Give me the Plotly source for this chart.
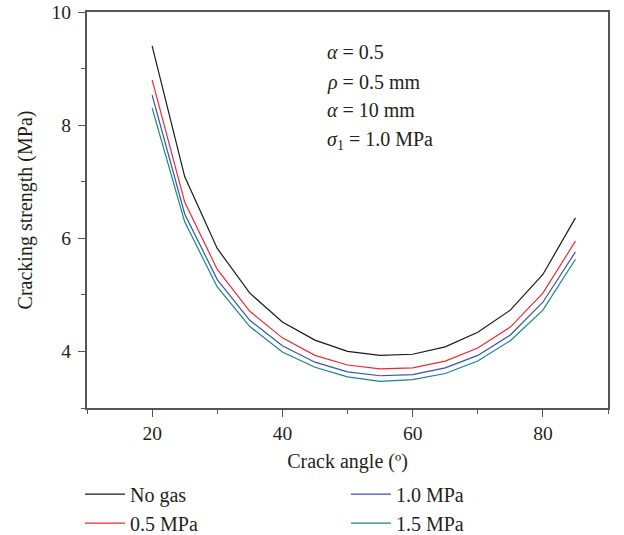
import plotly.graph_objects as go

angles = [20, 25, 30, 35, 40, 45, 50, 55, 60, 65, 70, 75, 80, 85]
no_gas = [9.40, 7.09, 5.82, 5.03, 4.52, 4.20, 4.00, 3.93, 3.95, 4.08, 4.34, 4.73, 5.36, 6.36]
p05 = [8.80, 6.64, 5.45, 4.71, 4.24, 3.93, 3.76, 3.69, 3.71, 3.83, 4.06, 4.43, 5.03, 5.95]
p10 = [8.53, 6.43, 5.27, 4.55, 4.10, 3.81, 3.64, 3.57, 3.59, 3.71, 3.93, 4.29, 4.87, 5.76]
p15 = [8.30, 6.29, 5.14, 4.44, 3.99, 3.72, 3.55, 3.47, 3.50, 3.61, 3.83, 4.19, 4.73, 5.63]

series_names = ["No gas", "0.5 MPa", "1.0 MPa", "1.5 MPa"]
series_vals = [no_gas, p05, p10, p15]
colors = ["#1a1a1a", "#ee2a2f", "#3553b3", "#17877f"]
legends = ["legend", "legend", "legend2", "legend2"]

x_ticks = [20, 40, 60, 80]
y_ticks = [4, 6, 8, 10]

FONT = "Liberation Serif, Times New Roman, serif"
TXT = "#231f20"

fig = go.Figure()
for name, vals, col, lg in zip(series_names, series_vals, colors, legends):
    fig.add_trace(go.Scatter(x=angles, y=vals, mode="lines", name=name,
                             line=dict(color=col, width=1.2), legend=lg))

axis_common = dict(
    showline=True, linecolor="#555555", linewidth=2, mirror=True,
    ticks="outside", ticklen=7, tickwidth=1.3, tickcolor="#555555",
    showgrid=False, zeroline=False, automargin=False,
    ticklabeloverflow="allow",
    tickfont=dict(family=FONT, size=19.5, color=TXT),
)

fig.update_xaxes(range=[10, 90], tickvals=x_ticks, ticktext=[str(v) for v in x_ticks],
                 minor=dict(dtick=10, tick0=10, ticks="outside", ticklen=4, tickwidth=1.3, tickcolor="#555555"),
                 title=dict(text="Crack angle (º)", font=dict(family=FONT, size=20, color=TXT), standoff=11),
                 **axis_common)
fig.update_yaxes(range=[3, 10], tickvals=y_ticks, ticktext=[str(v) for v in y_ticks],
                 minor=dict(dtick=1, tick0=3, ticks="outside", ticklen=4, tickwidth=1.3, tickcolor="#555555"),
                 ticklabelstandoff=3,
                 title=dict(text="Cracking strength (MPa)", font=dict(family=FONT, size=20, color=TXT), standoff=14),
                 **axis_common)

notes = ["<i>α</i> = 0.5", "<i>ρ</i> = 0.5 mm", "<i>α</i> = 10 mm", "<i>σ</i><sub>1</sub> = 1.0 MPa"]
note_y = [0.899, 0.823, 0.753, 0.675]
for t, yy in zip(notes, note_y):
    fig.add_annotation(text=t, x=0.457, y=yy, xref="paper", yref="paper",
                       xanchor="left", yanchor="middle", showarrow=False,
                       font=dict(family=FONT, size=20, color=TXT))

leg_common = dict(orientation="v", yanchor="top", xanchor="left",
                  font=dict(family=FONT, size=20, color=TXT),
                  bgcolor="rgba(0,0,0,0)", itemwidth=40)
fig.update_layout(
    width=624, height=535,
    margin=dict(l=87, r=16, t=12, b=127, autoexpand=False),
    paper_bgcolor="white", plot_bgcolor="white",
    legend=dict(x=-0.0134, y=-0.168, **leg_common),
    legend2=dict(x=0.497, y=-0.168, **leg_common),
    showlegend=True,
)

fig.write_html("out.html", config={"displayModeBar": False},
               post_script="document.body.style.margin='0';document.body.style.padding='0';")
